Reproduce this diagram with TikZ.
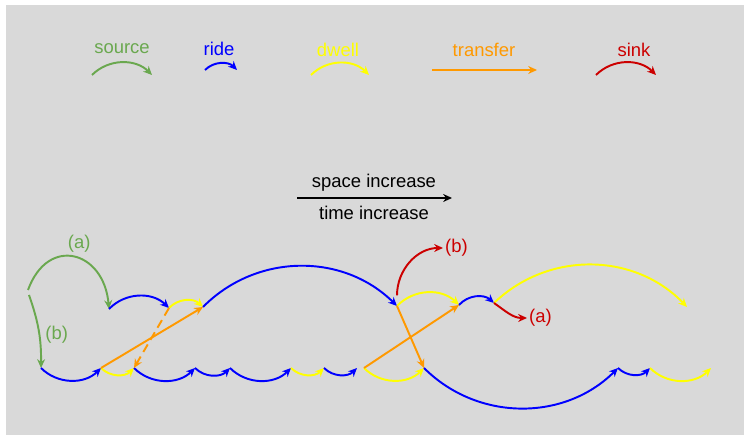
\documentclass[tikz,border=0pt]{standalone}
\usepackage{fontspec}
\setmainfont{Liberation Sans}
\usetikzlibrary{arrows.meta}

\definecolor{bggray}{HTML}{D9D9D9}
\definecolor{srcgreen}{HTML}{6AA84F}
\definecolor{ridecol}{HTML}{0000FF}
\definecolor{dwellcol}{HTML}{FFFF00}
\definecolor{xfercol}{HTML}{FF9900}
\definecolor{sinkcol}{HTML}{CC0000}

\begin{document}
\begin{tikzpicture}[x=0.02cm,y=0.02cm,>={Stealth[length=5pt,width=4.5pt]},
  evarc/.style={->,line width=1.1pt},
  srcarc/.style={evarc,srcgreen},
  ridearc/.style={evarc,ridecol},
  dwellarc/.style={evarc,dwellcol},
  xferarc/.style={evarc,xfercol},
  sinkarc/.style={evarc,sinkcol},
  lbl/.style={font=\fontsize{10.5}{12}\selectfont,inner sep=1pt}]
\useasboundingbox (0,0) rectangle (744,435);
\fill[bggray] (6,0) rectangle (744,430);

% legend
\node[lbl,srcgreen] (lgsrc) at (122,386) {source};
\node[lbl,ridecol] (lgride) at (219,386) {ride};
\node[lbl,dwellcol] (lgdwell) at (338,385) {dwell};
\node[lbl,xfercol] (lgxfer) at (484,385) {transfer};
\node[lbl,sinkcol] (lgsink) at (634,385) {sink};

\coordinate (lgsrcA) at (92,360);   \coordinate (lgsrcB) at (152,360);
\coordinate (lgrideA) at (205,365); \coordinate (lgrideB) at (237,365);
\coordinate (lgdwellA) at (311,360);\coordinate (lgdwellB) at (369,360);
\coordinate (lgxferA) at (432,365); \coordinate (lgxferB) at (537,365);
\coordinate (lgsinkA) at (596,360); \coordinate (lgsinkB) at (656,360);

\draw[srcarc] (lgsrcA) to[bend left=45] (lgsrcB);
\draw[ridearc] (lgrideA) to[bend left=45] (lgrideB);
\draw[dwellarc] (lgdwellA) to[bend left=45] (lgdwellB);
\draw[xferarc] (lgxferA) -- (lgxferB);
\draw[sinkarc] (lgsinkA) to[bend left=45] (lgsinkB);

% axis
\coordinate (axA) at (297,237);
\coordinate (axB) at (452,237);
\draw[->,line width=1.1pt] (axA) -- (axB);
\node[lbl] (space) at (374,252) {space increase};
\node[lbl] (time) at (374,222) {time increase};

% events, upper row
\coordinate (sa) at (28,145);
\coordinate (sb) at (29,140);
\coordinate (u1) at (109,126);
\coordinate (u2) at (169,127);
\coordinate (u3) at (203,128);
\coordinate (u4) at (397,129);
\coordinate (u5) at (459,130);
\coordinate (u6) at (494,132);
\coordinate (u7) at (687,128);

% events, lower row
\coordinate (l1) at (41,67);
\coordinate (l2) at (101,67);
\coordinate (l3) at (134,67);
\coordinate (l4) at (195,67);
\coordinate (l5) at (230,67);
\coordinate (l6) at (291,67);
\coordinate (l7) at (324,67);
\coordinate (l8) at (357,67);
\coordinate (l9) at (364,67);
\coordinate (l10) at (424,67);
\coordinate (l11) at (618,67);
\coordinate (l12) at (650,67);
\coordinate (l13) at (711,67);

% sources
\draw[srcarc] (sa) to[out=70,in=95,looseness=1.8]
  node[lbl,pos=0.55,above=2pt] (srca) {(a)} (u1);
\draw[srcarc] (sb) to[bend left=10]
  node[lbl,pos=0.55,right=2pt] (srcb) {(b)} (l1);

% upper row
\draw[ridearc] (u1) to[bend left=45] (u2);
\draw[dwellarc] (u2) to[bend left=45] (u3);
\draw[ridearc] (u3) to[bend left=45] (u4);
\draw[dwellarc] (u4) to[bend left=45] (u5);
\draw[ridearc] (u5) to[bend left=45] (u6);
\draw[dwellarc] (u6) to[bend left=45] (u7);

% lower row
\draw[ridearc] (l1) to[bend right=45] (l2);
\draw[dwellarc] (l2) to[bend right=45] (l3);
\draw[ridearc] (l3) to[bend right=45] (l4);
\draw[ridearc] (l4) to[bend right=45] (l5);
\draw[ridearc] (l5) to[bend right=45] (l6);
\draw[dwellarc] (l6) to[bend right=45] (l7);
\draw[ridearc] (l7) to[bend right=45] (l8);
\draw[dwellarc] (l9) to[bend right=45] (l10);
\draw[ridearc] (l10) to[bend right=45] (l11);
\draw[ridearc] (l11) to[bend right=45] (l12);
\draw[dwellarc] (l12) to[bend right=45] (l13);

% transfers
\draw[xferarc] (l2) -- (u3);
\draw[xferarc,dash pattern=on 5pt off 3pt] (u2) -- (l3);
\draw[xferarc] (u4) -- (l10);
\draw[xferarc] (l9) -- (u5);

% sinks
\node[lbl,sinkcol,anchor=west] (sinkb) at (443,187) {(b)};
\node[lbl,sinkcol,anchor=west] (sinka) at (527,117) {(a)};
\draw[sinkarc] ([yshift=6]u4) to[out=90,in=180] (sinkb.west);
\draw[sinkarc] (u6) to[out=-35,in=180] (sinka.west);
\end{tikzpicture}
\end{document}
